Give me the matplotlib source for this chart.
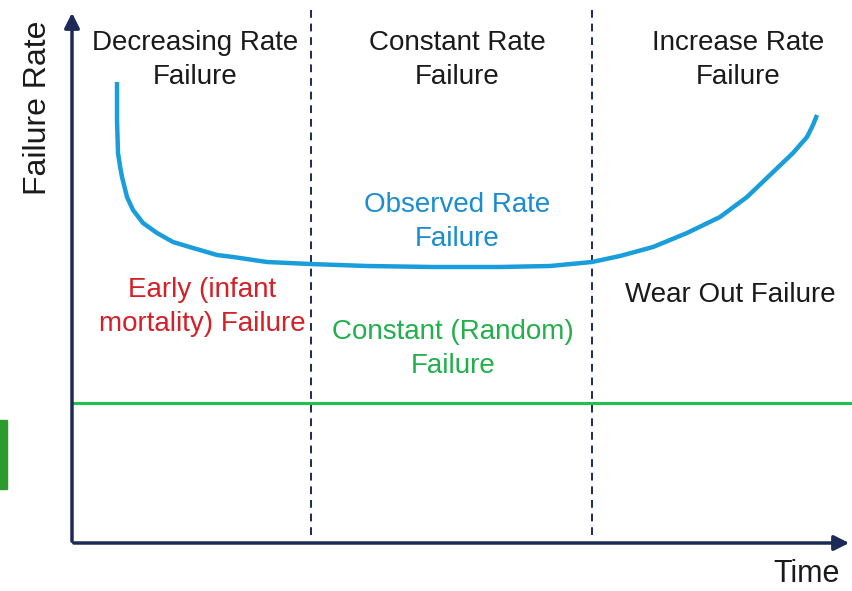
import matplotlib.pyplot as plt
from matplotlib.patches import Rectangle

# observed (bathtub) curve in pixel-like units
time = [117, 117, 118, 120, 122, 127, 133, 143, 157, 173, 193, 217, 233, 267, 310, 367,
        433, 500, 550, 592, 620, 653, 687, 720, 747, 770, 793, 807, 813, 817]
rate = [82, 120, 153, 166, 177, 197, 210, 223, 233, 242, 248, 255, 257, 262, 264, 266,
        267, 267, 266, 262, 256, 247, 233, 217, 197, 175, 153, 137, 125, 115]

random_rate = 403
phase_bounds = [311, 592]

phase_titles = ["Decreasing Rate\nFailure", "Constant Rate\nFailure", "Increase Rate\nFailure"]
phase_title_x = [195, 457, 738]

navy = "#1c2a58"
fs = 20
ls = 1.42

plt.rcParams['font.family'] = ['Liberation Sans', 'DejaVu Sans']
fig = plt.figure(figsize=(8.52, 5.91), dpi=100)
ax = fig.add_axes([0, 0, 1, 1])
ax.set_xlim(0, 852)
ax.set_ylim(591, 0)
ax.axis('off')

# axes with arrows
ax.annotate("", xy=(72, 10), xytext=(72, 544),
            arrowprops=dict(arrowstyle="-|>,head_length=0.9,head_width=0.45", color=navy, lw=2.5))
ax.annotate("", xy=(852, 543), xytext=(71, 543),
            arrowprops=dict(arrowstyle="-|>,head_length=0.9,head_width=0.45", color=navy, lw=2.5))

for b in phase_bounds:
    ax.plot([b, b], [10, 540], color=navy, lw=1.4, ls=(0, (4, 3)))

ax.plot([73, 852], [random_rate, random_rate], color="#1ec34a", lw=2.2)
ax.plot(time, rate, color="#1a9ddb", lw=3.2, solid_capstyle='butt', solid_joinstyle='round')

# green box fragment on the left edge
ax.add_patch(Rectangle((-2, 420), 9, 69, color="#2c9a2c"))

for t, x in zip(phase_titles, phase_title_x):
    ax.text(x, 60, t, ha='center', va='center', fontsize=fs, color="#1a1a1a", linespacing=ls)

ax.text(457, 222, "Observed Rate\nFailure", ha='center', va='center', fontsize=fs,
        color="#1a8ccf", linespacing=ls)
ax.text(202, 307, "Early (infant\nmortality) Failure", ha='center', va='center', fontsize=fs,
        color="#d42027", linespacing=ls)
ax.text(453, 349, "Constant (Random)\nFailure", ha='center', va='center', fontsize=fs,
        color="#21b04b", linespacing=ls)
ax.text(730, 295, "Wear Out Failure", ha='center', va='center', fontsize=fs, color="#1a1a1a")

ax.text(38, 108, "Failure Rate", ha='center', va='center', rotation=90, fontsize=23, color="#1a1a1a")
ax.text(807, 574, "Time", ha='center', va='center', fontsize=22, color="#1a1a1a")

plt.savefig("out.png", dpi=100)
